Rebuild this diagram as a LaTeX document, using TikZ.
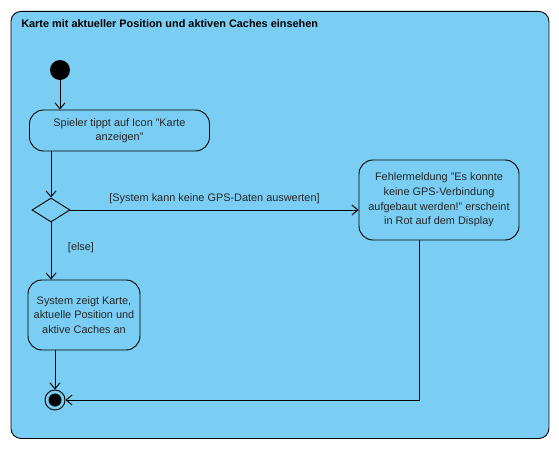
\documentclass[tikz,border=0pt]{standalone}
\usepackage{fontspec}
\setmainfont{Liberation Sans}
\usetikzlibrary{arrows.meta,shapes.geometric}
\definecolor{framefill}{HTML}{7ACEF4}
\begin{document}
\begin{tikzpicture}[x=1pt,y=-1pt,
  font=\fontsize{10.9}{14.6}\selectfont,
  line width=0.9pt,
  action/.style={draw, rounded corners=14pt, fill=framefill, align=center, inner sep=0pt, text=black!85},
  flow/.style={-{Straight Barb[length=6pt,width=10pt]}},
  guard/.style={text=black!85}]
\useasboundingbox (0,0) rectangle (559,449);
\node[draw, rounded corners=10pt, fill=framefill, minimum width=538pt, minimum height=427pt, anchor=north west, inner sep=0pt] (frame) at (10.5,11) {};
\node[anchor=west, font=\bfseries\fontsize{10.9}{12}\selectfont] (title) at (17.5,24) {Karte mit aktueller Position und aktiven Caches einsehen};
\node[circle, fill=black, minimum size=20pt, inner sep=0pt] (start) at (60,70) {};
\node[action, minimum width=180pt, minimum height=41pt] (a1) at (119.5,130.5) {Spieler tippt auf Icon "Karte\\anzeigen"};
\node[diamond, draw, fill=framefill, minimum width=38pt, minimum height=24pt, inner sep=0pt] (dec) at (51,210) {};
\node[action, minimum width=160pt, minimum height=80pt] (err) at (439,200) {Fehlermeldung "Es konnte\\keine GPS-Verbindung\\aufgebaut werden!" erscheint\\in Rot auf dem Display};
\node[action, minimum width=112pt, minimum height=70pt] (sys) at (84,315) {System zeigt Karte,\\aktuelle Position und\\aktive Caches an};
\node[circle, draw, fill=framefill, minimum size=20pt, inner sep=0pt] (end) at (55,400) {};
\node[circle, fill=black, minimum size=13pt, inner sep=0pt] (endin) at (end) {};
\coordinate (errdrop) at (419,400);
\draw[flow] (start.south) -- (start.south |- a1.north);
\draw[flow] (a1.south -| dec) -- (dec.north);
\draw[flow] (dec.east) -- node[above=2pt, guard] (glabel) {[System kann keine GPS-Daten auswerten]} (err.west |- dec);
\draw[flow] (dec.south) -- (sys.north -| dec);
\node[guard] (else) at (81,248) {[else]};
\draw[flow] (sys.south -| end) -- (end.north);
\draw[flow] (err.south -| errdrop) -- (errdrop) -- (end.east);
\end{tikzpicture}
\end{document}
